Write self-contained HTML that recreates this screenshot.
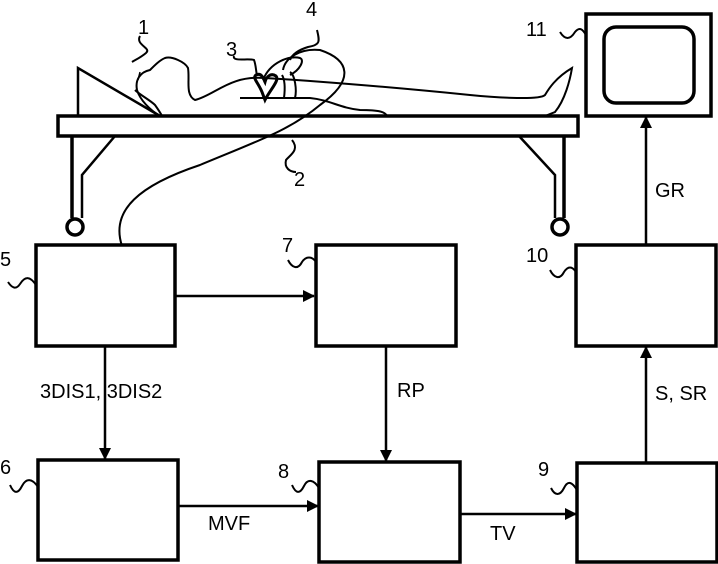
<!DOCTYPE html>
<html><head><style>body{margin:0;background:#fff}svg{display:block}text{font-family:"Liberation Sans",sans-serif;font-size:20px;fill:#000}</style></head>
<body>
<svg width="718" height="564" viewBox="0 0 718 564" xmlns="http://www.w3.org/2000/svg">
<defs><marker id="a" markerWidth="12" markerHeight="12" refX="11" refY="6" orient="auto" markerUnits="userSpaceOnUse"><path d="M0,0 L12,6 L0,12z" fill="#000"/></marker></defs>
<g fill="none" stroke="#000" stroke-width="3.5">
<rect x="36" y="245" width="139" height="101"/>
<rect x="316" y="245" width="140" height="101"/>
<rect x="576" y="245" width="140" height="101"/>
<rect x="38" y="460" width="140" height="100"/>
<rect x="319" y="462" width="141" height="100"/>
<rect x="577" y="463" width="140" height="99"/>
<rect x="586" y="14" width="125" height="102"/>
<rect x="604" y="27" width="90" height="76" rx="12"/>
<rect x="58" y="116" width="520" height="20"/>
<path d="M72,136 V218 M564,136 V218"/>
<circle cx="75" cy="227" r="8"/><circle cx="560" cy="227" r="8"/>
</g>
<g fill="none" stroke="#000" stroke-width="2.5">
<path d="M115,136 L82,175 V218 M519,136 L555,175 V218"/>
<path d="M78,116 V68 L160,116"/>
<path d="M175,296 H314" marker-end="url(#a)"/>
<path d="M105,346 V459" marker-end="url(#a)"/>
<path d="M386,346 V461" marker-end="url(#a)"/>
<path d="M178,506 H318" marker-end="url(#a)"/>
<path d="M460,514 H576" marker-end="url(#a)"/>
<path d="M646,462 V347" marker-end="url(#a)"/>
<path d="M646,245 V117" marker-end="url(#a)"/>
</g>
<g fill="none" stroke="#000" stroke-width="2">
<path d="M160,116 C150,110 140,100 137,90 C135,80 140,72 150,70 C155,65 160,60 165,58 C172,56 185,62 188,68 C190,80 185,95 195,100 C215,95 230,75 265,78 C330,82 400,88 470,95 C500,98 540,100 545,95 C548,90 555,78 572,68 C570,80 565,100 555,112 L545,116"/>
<path d="M135,90 C140,95 150,100 155,105 C160,112 162,116 162,116"/>
<path d="M240,98 H310 C330,100 340,108 360,110 C380,110 385,112 387,116"/>
<path d="M122,246 C110,210 140,185 200,165 C260,140 290,130 320,105 C355,80 350,60 320,50 C300,48 285,58 283,70"/>
<path d="M263,80 C270,62 290,55 300,58 C305,60 300,70 290,75 M290,72 C295,75 297,90 295,98 M282,75 C285,80 285,90 284,98"/>
<path d="M262,92 C258,82 252,78 256,75 C262,72 264,80 265,82 C266,78 270,72 276,76 C280,80 270,90 265,100 Z" stroke-width="3"/>
<path d="M140,36 C135,45 152,48 146,53 C140,58 135,60 132,62"/>
<path d="M317,30 C320,42 320,45 308,47 C298,50 292,55 290,60"/>
<path d="M234,56 C232,62 248,58 254,60 C256,65 256,72 257,75"/>
<path d="M292,140 C300,150 290,155 286,160 C284,168 290,172 296,172"/>
<path d="M560,32 C565,40 570,40 575,32 C580,26 583,30 586,35"/>
<path d="M8,282 C12,288 16,290 20,284 C25,276 30,276 36,285"/>
<path d="M288,260 C292,268 298,270 302,262 C306,256 312,256 316,262"/>
<path d="M550,270 C554,278 560,280 564,272 C568,266 572,266 576,272"/>
<path d="M10,485 C14,494 18,494 22,486 C26,478 32,478 38,487"/>
<path d="M292,485 C296,494 300,494 304,486 C308,478 314,480 319,488"/>
<path d="M551,488 C555,496 560,496 564,488 C568,480 572,482 577,490"/>
</g>
<path d="M140,72 L138,80" stroke="#000" stroke-width="1.5"/>
<text x="138" y="34">1</text>
<text x="294" y="186">2</text>
<text x="226" y="56">3</text>
<text x="306" y="16">4</text>
<text x="0" y="266">5</text>
<text x="0" y="474">6</text>
<text x="282" y="252">7</text>
<text x="278" y="478">8</text>
<text x="538" y="476">9</text>
<text x="526" y="262">10</text>
<text x="526" y="36">11</text>
<text x="40" y="398">3DIS1, 3DIS2</text>
<text x="397" y="397">RP</text>
<text x="655" y="400">S, SR</text>
<text x="655" y="197">GR</text>
<text x="208" y="530">MVF</text>
<text x="490" y="540">TV</text>
</svg>
</body></html>
